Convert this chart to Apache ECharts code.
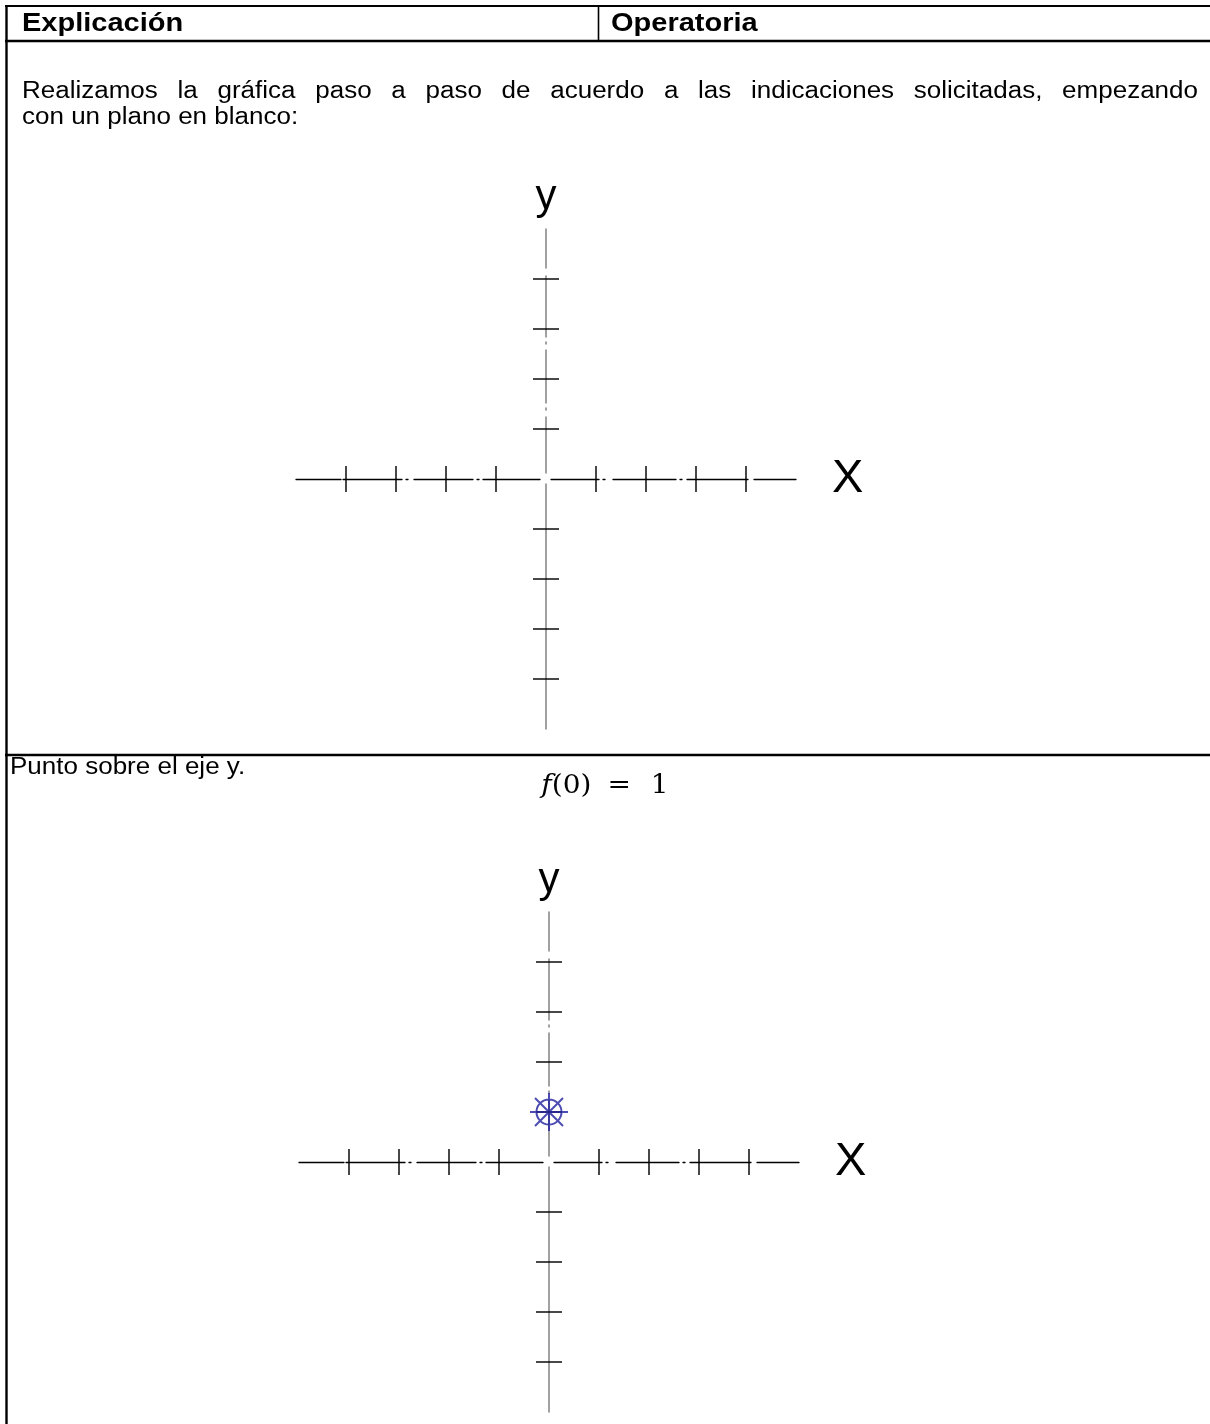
<!DOCTYPE html>
<html>
<head>
<meta charset="utf-8">
<script src="https://cdn.jsdelivr.net/npm/echarts@6/dist/echarts.min.js"></script>
<style>
html,body{margin:0;padding:0;background:#fff;}
#main{width:1210px;height:1424px;}
</style>
</head>
<body>
<div id="main"></div>
<script>
// datos de la tabla y de los planos
var headers = ['Explicación', 'Operatoria'];
var introLine1 = 'Realizamos la gráfica paso a paso de acuerdo a las indicaciones solicitadas, empezando';
var introLine2 = 'con un plano en blanco:';
var step2Text = 'Punto sobre el eje y.';
var axisRange = [-5, 5];
var xTicks = [-4, -3, -2, -1, 1, 2, 3, 4];
var yTicks = [-4, -3, -2, -1, 1, 2, 3, 4];
var pointsOnY = [[0, 1]];

var FONT = '"Liberation Sans", Arial, sans-serif';
var SQ = 0.92; // el texto del documento sale algo achatado en vertical
var ctx = document.createElement('canvas').getContext('2d');

function txt(s, x, y, font) {
	return {type:'text', x:x, y:y, scaleY:SQ, style:{text:s, font:font, fill:'#000', verticalAlign:'middle'}};
}

// texto justificado palabra por palabra
function justify(text, x0, x1, y, font) {
	ctx.font = font;
	var words = text.split(' ');
	var total = 0;
	for (var i = 0; i < words.length; i++) total += ctx.measureText(words[i]).width;
	var gap = (x1 - x0 - total) / (words.length - 1);
	var x = x0, out = [];
	for (var j = 0; j < words.length; j++) {
		out.push(txt(words[j], x, y, font));
		x += ctx.measureText(words[j]).width + gap;
	}
	return out;
}

// cortes del trazo (px desde el inicio del eje), como en el dibujo original
function dashFrom(gaps, len) {
	var arr = [], pos = 0;
	for (var i = 0; i < gaps.length; i++) {
		arr.push(gaps[i][0] - pos, gaps[i][1] - gaps[i][0]);
		pos = gaps[i][1];
	}
	arr.push(len - pos, 0);
	return arr;
}
var xDash = dashFrom([[45,47],[106,110],[112,118],[177,181],[183,187],[244,255],[303,307],[309,317],[380,384],[386,391],[452,458]], 500);
var yDash = dashFrom([[245,256],[312,319],[321,326],[379,385],[387,392],[453,461]], 500);

function hline(x1, x2, y, w) {
	return {type:'line', shape:{x1:x1, y1:y, x2:x2, y2:y}, style:{stroke:'#000', lineWidth:w}};
}
function vline(x, y1, y2, w) {
	return {type:'line', shape:{x1:x, y1:y1, x2:x, y2:y2}, style:{stroke:'#000', lineWidth:w}};
}

var BODY = '26px ' + FONT;
var graphics = [
	hline(5, 1210, 6, 2),
	hline(5, 1210, 41, 2.4),
	vline(6.5, 5, 1424, 2.4),
	vline(598.5, 5, 41, 1.6),
	hline(5, 1210, 755, 2.4),
	txt(headers[0], 22, 24, 'bold 29px ' + FONT),
	txt(headers[1], 611, 24, 'bold 29px ' + FONT),
	txt(introLine2, 22, 117, BODY),
	txt(step2Text, 10, 767, BODY),
	{type:'text', x:605, y:786, scaleY:0.9, style:{
		text:'{i|f}(0){e|=}1', align:'center', verticalAlign:'middle', fill:'#000',
		font:'28px "DejaVu Serif", serif',
		rich:{
			i:{fontStyle:'italic', fontFamily:'DejaVu Serif', fontSize:28},
			e:{fontFamily:'DejaVu Serif', fontSize:28, padding:[0, 20, 0, 16]}
		}
	}}
].concat(justify(introLine1, 22, 1198, 91, BODY));

function makeX(gi) {
	return {
		gridIndex:gi, type:'value', min:axisRange[0], max:axisRange[1], interval:1,
		axisLine:{onZero:true, lineStyle:{color:'#000', width:1.3, type:xDash}},
		axisTick:{show:false}, axisLabel:{show:false}, splitLine:{show:false},
		name:'X', nameLocation:'end', nameGap:36,
		nameTextStyle:{fontSize:47, fontFamily:'Liberation Sans', color:'#000', verticalAlign:'middle', padding:[8, 0, 0, 0]}
	};
}
function makeY(gi) {
	return {
		gridIndex:gi, type:'value', min:axisRange[0], max:axisRange[1], interval:1,
		axisLine:{onZero:true, lineStyle:{color:'#8a8a8a', width:1.6, type:yDash}},
		axisTick:{show:false}, axisLabel:{show:false}, splitLine:{show:false},
		name:'y', nameLocation:'end', nameGap:11,
		nameTextStyle:{fontSize:42, fontFamily:'Liberation Sans', color:'#000'}
	};
}

function tickSeries(gi) {
	return [
		{type:'scatter', xAxisIndex:gi, yAxisIndex:gi, symbol:'rect', symbolSize:[1.8, 26],
			itemStyle:{color:'#000'}, data:xTicks.map(function(v){ return [v, 0]; })},
		{type:'scatter', xAxisIndex:gi, yAxisIndex:gi, symbol:'rect', symbolSize:[26, 1.8],
			itemStyle:{color:'#000'}, data:yTicks.map(function(v){ return [0, v]; })}
	];
}

var series = tickSeries(0).concat(tickSeries(1));
series.push({
	type:'scatter', xAxisIndex:1, yAxisIndex:1, z:5,
	symbol:'path://M6.5,19A12.5,12.5,0,1,1,31.5,19A12.5,12.5,0,1,1,6.5,19ZM0,19L38,19M19,0L19,38M5,5L33,33M33,5L5,33',
	symbolSize:38,
	itemStyle:{color:'none', borderColor:'#1f1fa0', borderWidth:2},
	data:pointsOnY
});

var myChart = echarts.init(document.getElementById('main'));
myChart.setOption({
	animation:false,
	backgroundColor:'#fff',
	grid:[
		{left:296, top:229, width:500, height:500},
		{left:299, top:912, width:500, height:500}
	],
	xAxis:[makeX(0), makeX(1)],
	yAxis:[makeY(0), makeY(1)],
	series:series,
	graphic:graphics
});
</script>
</body>
</html>
